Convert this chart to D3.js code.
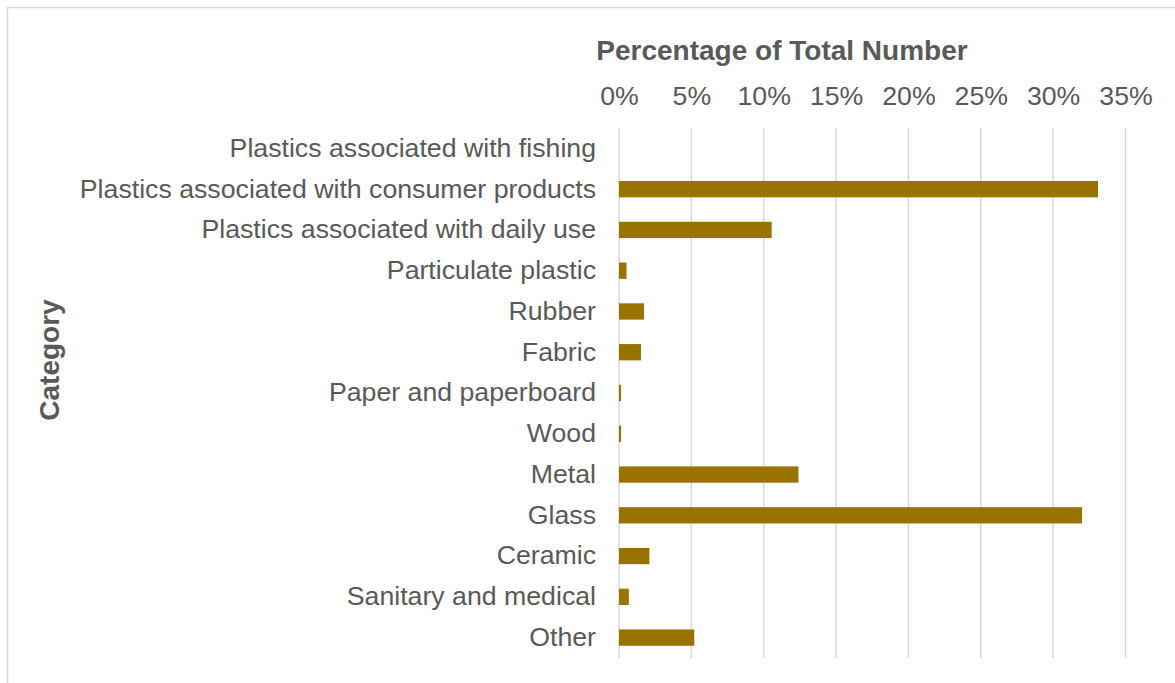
<!DOCTYPE html>
<html>
<head>
<meta charset="utf-8">
<script src="https://cdn.jsdelivr.net/npm/d3@7"></script>
<style>
  html, body { margin: 0; padding: 0; background: #fff; }
  svg { display: block; font-family: "Liberation Sans", Arial, sans-serif; }
</style>
</head>
<body>
<svg id="chart" width="1175" height="683"></svg>
<script>
// Litter categories, top to bottom
const categories = [
  "Plastics associated with fishing",
  "Plastics associated with consumer products",
  "Plastics associated with daily use",
  "Particulate plastic",
  "Rubber",
  "Fabric",
  "Paper and paperboard",
  "Wood",
  "Metal",
  "Glass",
  "Ceramic",
  "Sanitary and medical",
  "Other"
];

// Share of total item count, in percent
const percentages = [0, 33.1, 10.55, 0.52, 1.73, 1.52, 0.14, 0.14, 12.4, 32.0, 2.1, 0.68, 5.2];

const tickValues = [0, 5, 10, 15, 20, 25, 30, 35];

const xTitle = "Percentage of Total Number";
const yTitle = "Category";

const svg = d3.select("#chart");
const W = 1175, H = 683;

const textColor = "#595959";
const gridColor = "#d9d9d9";
const barColor = "#997300";
const labelSize = "26.7px";
const titleSize = "28px";

// Chart frame
svg.append("rect")
  .attr("x", 7.5).attr("y", 7.5)
  .attr("width", W).attr("height", H)
  .attr("fill", "#fff")
  .attr("stroke", gridColor)
  .attr("stroke-width", 1.5);

const plot = { left: 619, right: 1125.5, top: 128, bottom: 658 };

const x = d3.scaleLinear()
  .domain([0, 35])
  .range([plot.left, plot.right]);

const y = d3.scaleBand()
  .domain(categories)
  .range([plot.top, plot.bottom])
  .paddingInner(0.6)
  .paddingOuter(0.3);

// Vertical gridlines
svg.append("g")
  .selectAll("line")
  .data(tickValues)
  .join("line")
  .attr("x1", d => x(d)).attr("x2", d => x(d))
  .attr("y1", plot.top).attr("y2", plot.bottom)
  .attr("stroke", gridColor)
  .attr("stroke-width", 1.5);

// Top axis tick labels
const xAxis = d3.axisTop(x)
  .tickValues(tickValues)
  .tickFormat(d => d + "%")
  .tickSize(0)
  .tickPadding(0);

const gx = svg.append("g")
  .attr("transform", `translate(0, 105)`)
  .call(xAxis);
gx.select(".domain").remove();
gx.selectAll("text")
  .attr("fill", textColor)
  .style("font-size", labelSize)
  .style("font-family", "'Liberation Sans', Arial, sans-serif");

// Category labels
const yAxis = d3.axisLeft(y).tickSize(0).tickPadding(0);
const gy = svg.append("g")
  .attr("transform", `translate(596, -1)`)
  .call(yAxis);
gy.select(".domain").remove();
gy.selectAll("text")
  .attr("fill", textColor)
  .attr("dy", "0.35em")
  .style("font-size", labelSize)
  .style("font-family", "'Liberation Sans', Arial, sans-serif");

// Bars
svg.append("g")
  .selectAll("rect")
  .data(categories.map((c, i) => ({ c, v: percentages[i] })))
  .join("rect")
  .attr("x", x(0))
  .attr("y", d => y(d.c))
  .attr("width", d => x(d.v) - x(0))
  .attr("height", y.bandwidth())
  .attr("fill", barColor);

// Axis titles
svg.append("text")
  .attr("x", 782)
  .attr("y", 60)
  .attr("text-anchor", "middle")
  .attr("fill", textColor)
  .style("font-size", titleSize)
  .style("font-weight", "bold")
  .text(xTitle);

svg.append("text")
  .attr("transform", `translate(59, 360) rotate(-90)`)
  .attr("text-anchor", "middle")
  .attr("fill", textColor)
  .style("font-size", titleSize)
  .style("font-weight", "bold")
  .text(yTitle);
</script>
</body>
</html>
